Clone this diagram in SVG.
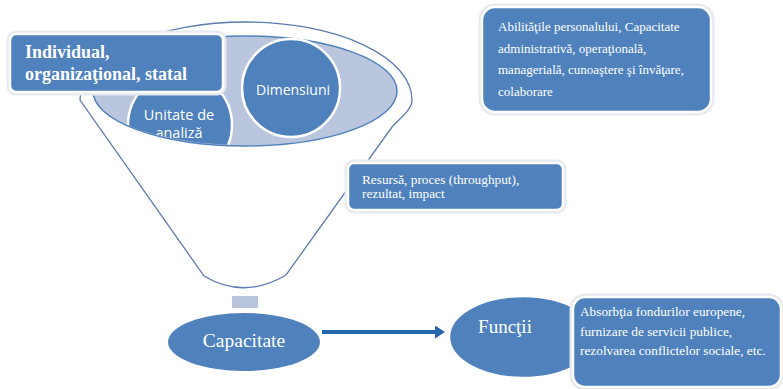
<svg xmlns="http://www.w3.org/2000/svg" width="783" height="389" viewBox="0 0 783 389">
<style>
.node{fill:#4F81BD;stroke:#FFFFFF;stroke-width:2.5}
.halo{fill:none;stroke:#E6E9EF;stroke-width:7}
.serif{font-family:"Liberation Serif","Times New Roman",serif;fill:#FFFFFF}
.sans{font-family:"Open Sans","Liberation Sans",sans-serif;fill:#FFFFFF}
.outline{fill:none;stroke:#5B7BB0;stroke-width:1.3}
</style>
<defs>
<clipPath id="innerClip"><ellipse cx="245" cy="91" rx="151" ry="54"/></clipPath>
<marker id="arr" markerWidth="10" markerHeight="13" refX="2" refY="6.5" orient="auto" markerUnits="userSpaceOnUse">
<path d="M0,0 L10,6.5 L0,13 Z" fill="#2566AF"/>
</marker>
</defs>
<rect width="783" height="389" fill="#FFFFFF"/>

<g id="funnel">
<path class="outline" d="M80,100 A166,78 0 0 1 412,100 C412,110 400,118 392,127 L286,275 Q244,300 204,276 L80,100 Z" fill="#FFFFFF"/>
<ellipse cx="245" cy="91" rx="152" ry="55" fill="#BAC6DE" stroke="#4F81BD" stroke-width="1.5"/>
</g>

<g id="unitate" clip-path="url(#innerClip)">
<circle cx="180" cy="125" r="52" class="node"/>
<text class="sans" x="179" y="120" font-size="14.5" text-anchor="middle">Unitate de</text>
<text class="sans" x="179" y="138" font-size="14.5" text-anchor="middle">analiză</text>
</g>

<g id="dimensiuni">
<circle cx="291" cy="88" r="49" class="node"/>
<text class="sans" x="293" y="95" font-size="14" text-anchor="middle">Dimensiuni</text>
</g>

<g id="individual">
<rect x="10" y="34" width="213" height="58" rx="6" class="halo"/>
<rect x="10" y="34" width="213" height="58" rx="6" class="node" stroke-width="3"/>
<text class="serif" x="25" y="58" font-size="18" font-weight="bold">Individual,</text>
<text class="serif" x="25" y="80" font-size="18" font-weight="bold">organizaţional, statal</text>
</g>

<g id="abilitati">
<rect x="482" y="7" width="229" height="105" rx="13" class="halo"/>
<rect x="482" y="7" width="229" height="105" rx="13" class="node" stroke-width="3"/>
<text class="serif" x="498" y="31" font-size="13">Abilităţile personalului, Capacitate</text>
<text class="serif" x="498" y="52.5" font-size="13">administrativă, operaţională,</text>
<text class="serif" x="498" y="74" font-size="13">managerială, cunoaştere şi învăţare,</text>
<text class="serif" x="498" y="95.5" font-size="13">colaborare</text>
</g>

<g id="resursa">
<rect x="348" y="163" width="215" height="47" rx="6" class="halo"/>
<rect x="348" y="163" width="215" height="47" rx="6" class="node" stroke-width="3"/>
<text class="serif" x="362" y="184" font-size="13.3">Resursă, proces (throughput),</text>
<text class="serif" x="362" y="198" font-size="13.3">rezultat, impact</text>
</g>

<g id="connector-block">
<rect x="232" y="296" width="26" height="12" fill="#B8C4DC"/>
</g>

<g id="capacitate">
<ellipse cx="244" cy="342" rx="76" ry="29" fill="#4F81BD"/>
<text class="serif" x="244" y="347" font-size="19.5" text-anchor="middle">Capacitate</text>
</g>

<g id="functii">
<ellipse cx="523" cy="337" rx="74" ry="41" class="node" stroke="#EEF0F4" stroke-width="3"/>
<text class="serif" x="505" y="333" font-size="19" text-anchor="middle">Funcţii</text>
</g>

<g id="functii-detalii">
<rect x="573" y="297" width="208" height="90" rx="12" class="halo"/>
<rect x="573" y="297" width="208" height="90" rx="12" class="node" stroke-width="3"/>
<text class="serif" x="580" y="316" font-size="13.3">Absorbţia fondurilor europene,</text>
<text class="serif" x="580" y="336" font-size="13.3">furnizare de servicii publice,</text>
<text class="serif" x="580" y="355" font-size="13.3">rezolvarea conflictelor sociale, etc.</text>
</g>

<g id="connectors">
<line x1="322" y1="332" x2="437" y2="332" stroke="#2566AF" stroke-width="4" marker-end="url(#arr)"/>
</g>
</svg>
